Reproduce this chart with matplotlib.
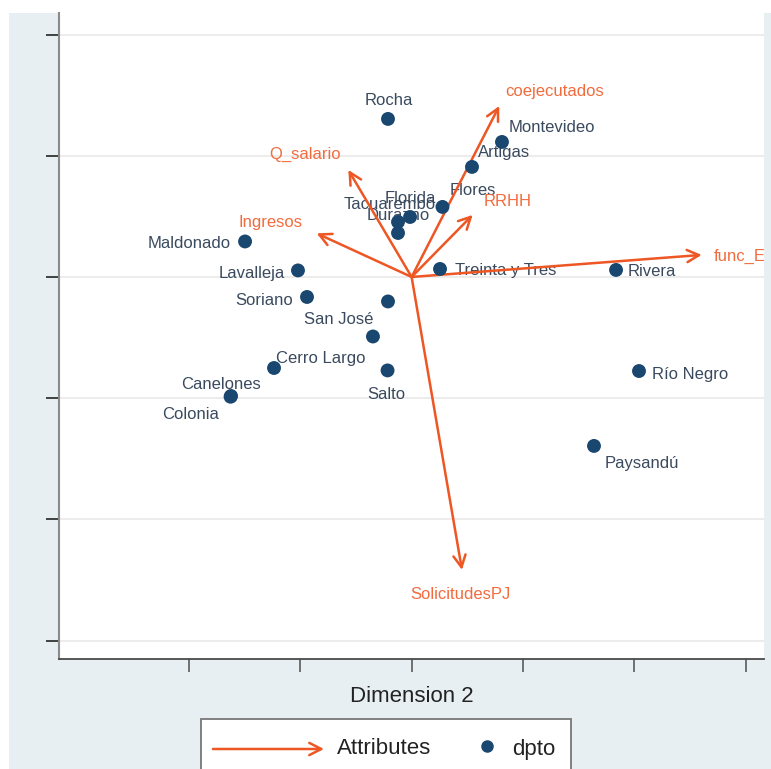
import matplotlib.pyplot as plt
from matplotlib.patches import Rectangle, FancyArrowPatch
from matplotlib.lines import Line2D

plt.rcParams['font.family'] = ['Liberation Sans', 'DejaVu Sans']

# coordenadas de los departamentos (dimension 2, dimension 1)
dptos = ['Rocha', 'Montevideo', 'Artigas', 'Flores', 'Florida', 'Tacuarembó',
         'Durazno', 'Treinta y Tres', 'Rivera', 'Maldonado', 'Lavalleja',
         'Soriano', '', 'San José', 'Cerro Largo', 'Canelones', 'Colonia',
         'Salto', 'Río Negro', 'Paysandú']
dim2 = [-0.212, 0.811, 0.542, 0.277, -0.014, -0.122, -0.122, 0.255, 1.835,
        -1.495, -1.020, -0.939, -0.212, -0.347, -1.235, -1.621, -1.625,
        -0.216, 2.041, 1.637]
dim1 = [1.304, 1.114, 0.908, 0.578, 0.495, 0.454, 0.363, 0.066, 0.058,
        0.293, 0.054, -0.165, -0.202, -0.491, -0.751, -0.982, -0.988,
        -0.771, -0.776, -1.394]

# vectores de atributos
attrs = ['coejecutados', 'RRHH', 'func_E', 'Q_salario', 'Ingresos', 'SolicitudesPJ']
attr_x = [0.787, 0.548, 2.604, -0.568, -0.852, 0.452]
attr_y = [1.411, 0.512, 0.182, 0.883, 0.360, -2.417]

# posicion de cada etiqueta (alineacion, dx, dy en pixeles)
dpto_lab = [('center', 1, 18), ('left', 7, 14), ('left', 6, 14), ('left', 7, 16),
            ('center', 0, 18), ('center', -8, 17), ('center', 0, 17),
            ('left', 15, -2), ('left', 12, -2), ('right', -14, -2),
            ('right', -13, -3), ('right', -14, -4), ('left', 0, 0),
            ('right', 0, 17), ('left', 2, 9), ('center', -10, 11),
            ('center', -40, -18), ('center', -1, -24), ('left', 13, -3),
            ('left', 11, -18)]
attr_lab = [('left', 6, 14), ('left', 11, 13), ('left', 12, -2),
            ('right', -7, 16), ('right', -14, 11), ('center', -2, -25)]

NAVY = '#1a476f'
ORANGE = '#ee5624'
ORANGE_TXT = '#f26b3d'
LABEL = '#3a4a5e'
BG = '#e8eff2'

W, H = 771, 769
fig = plt.figure(figsize=(W / 100, H / 100), dpi=100)
fig.patch.set_facecolor('white')
fig.add_artist(Rectangle((9 / W, 0), 1 - 9 / W, 1 - 13 / H, transform=fig.transFigure,
                         facecolor=BG, edgecolor='none', zorder=0))

ax = fig.add_axes([59 / W, 1 - 659 / H, (764 - 59) / W, (659 - 13) / H])
ax.set_facecolor('white')
ax.set_xlim(-3.165, 3.163)
ax.set_ylim(-3.152, 2.178)
ax.set_xticks([-2, -1, 0, 1, 2, 3])
ax.set_yticks([-3, -2, -1, 0, 1, 2])
ax.set_xticklabels([])
ax.set_yticklabels([])
ax.yaxis.grid(True, color='#ebebeb', lw=1.3)
ax.set_axisbelow(True)
for s in ['top', 'right']:
    ax.spines[s].set_visible(False)
ax.spines['left'].set_color('#8a8a8a')
ax.spines['left'].set_linewidth(1.5)
ax.spines['bottom'].set_color('#4a4a4a')
ax.spines['bottom'].set_linewidth(1.3)
ax.tick_params(axis='y', length=9.5, width=1.3, color='#333333')
ax.tick_params(axis='x', length=9, width=1.3, color='#666666')

# etiquetas de departamentos
for n, x, y, (ha, dx, dy) in zip(dptos, dim2, dim1, dpto_lab):
    if n:
        ax.annotate(n, xy=(x, y), xytext=(dx, dy), textcoords='offset pixels',
                    ha=ha, va='center', fontsize=12, color=LABEL, zorder=2,
                    clip_on=True)

# flechas de atributos
for n, x, y, (ha, dx, dy) in zip(attrs, attr_x, attr_y, attr_lab):
    ax.annotate('', xy=(x, y), xytext=(0, 0),
                arrowprops=dict(arrowstyle='->,head_length=0.43,head_width=0.22',
                                mutation_scale=20, lw=1.8, color=ORANGE,
                                shrinkA=0, shrinkB=0), zorder=3)
    ax.annotate(n, xy=(x, y), xytext=(dx, dy), textcoords='offset pixels',
                ha=ha, va='center', fontsize=12, color=ORANGE_TXT, zorder=5,
                clip_on=True)

ax.scatter(dim2, dim1, s=100, color=NAVY, edgecolors='none', zorder=4)

ax.set_xlabel('Dimension 2', fontsize=16, color='#222222', labelpad=7)

# leyenda
def fx(px):
    return px / W

def fy(py):
    return 1 - py / H

fig.add_artist(Rectangle((fx(201), fy(780)), fx(571) - fx(201), fy(719) - fy(780),
                         transform=fig.transFigure, facecolor='white',
                         edgecolor='#777777', lw=1.3, zorder=5, clip_on=False))
fig.add_artist(FancyArrowPatch((fx(213), fy(749)), (fx(324), fy(749)),
                               transform=fig.transFigure,
                               arrowstyle='->,head_length=0.43,head_width=0.22',
                               mutation_scale=20, lw=1.8, color=ORANGE,
                               shrinkA=0, shrinkB=0, zorder=6))
fig.text(fx(337), fy(749), 'Attributes', fontsize=16, color='#222222',
         ha='left', va='center', zorder=6)
fig.add_artist(Line2D([fx(487)], [fy(746)], marker='o', markersize=8,
                      color=NAVY, transform=fig.transFigure, zorder=6))
fig.text(fx(512), fy(749), 'dpto', fontsize=16, color='#222222',
         ha='left', va='center', zorder=6)

fig.savefig('out.png', dpi=100)
